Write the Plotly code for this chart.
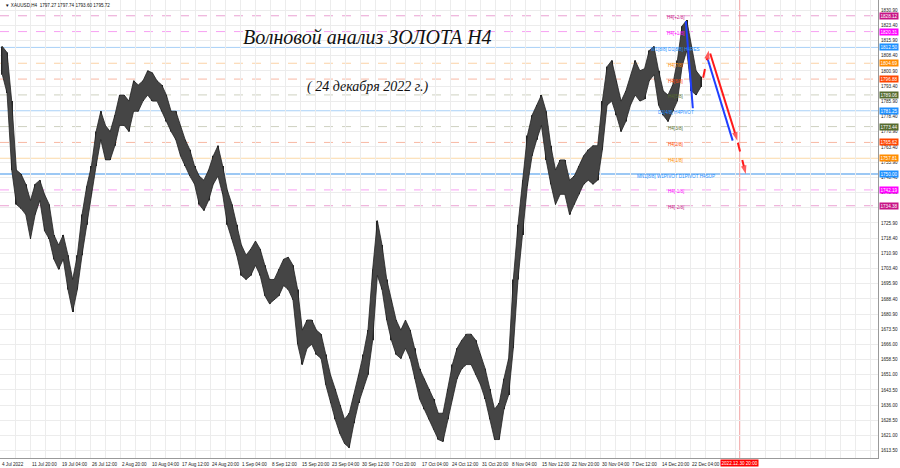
import plotly.graph_objects as go

# ---------------- data ----------------
y_ticks = [1830.9, 1823.4, 1815.9, 1808.4, 1800.9, 1793.4, 1785.9, 1778.4, 1770.9,
           1763.4, 1755.9, 1748.4, 1740.9, 1733.4, 1725.9, 1718.4, 1710.9, 1703.4,
           1695.9, 1688.4, 1680.9, 1673.5, 1666.0, 1658.5, 1651.0, 1643.5, 1636.0,
           1628.5, 1621.0, 1613.5]

time_labels = ["4 Jul 2022", "11 Jul 20:00", "19 Jul 04:00", "26 Jul 12:00", "2 Aug 20:00",
               "10 Aug 04:00", "17 Aug 12:00", "24 Aug 20:00", "1 Sep 04:00", "8 Sep 12:00",
               "15 Sep 20:00", "23 Sep 04:00", "30 Sep 12:00", "7 Oct 20:00", "17 Oct 04:00",
               "24 Oct 12:00", "31 Oct 20:00", "8 Nov 04:00", "15 Nov 12:00", "22 Nov 20:00",
               "30 Nov 04:00", "7 Dec 12:00", "14 Dec 20:00", "22 Dec 04:00"]
label_every = 32          # bars between time labels
group = 5                 # H4 bars per drawn price group

grp_high = [1813, 1810, 1786, 1752, 1750, 1745, 1737, 1745, 1747, 1740,
            1735, 1720, 1715, 1720, 1710, 1698, 1710, 1730, 1744, 1754,
            1771, 1781, 1774, 1771, 1779, 1789, 1789, 1786, 1796, 1794,
            1796, 1801, 1800, 1796, 1794, 1789, 1781, 1781, 1774, 1767,
            1762, 1754, 1749, 1747, 1752, 1759, 1764, 1754, 1742, 1735,
            1725, 1715, 1710, 1713, 1717, 1713, 1705, 1698, 1698, 1703,
            1708, 1709, 1705, 1693, 1673, 1678, 1678, 1673, 1671, 1661,
            1651, 1644, 1636, 1629, 1632, 1641, 1651, 1661, 1673, 1703,
            1727, 1715, 1698, 1688, 1678, 1673, 1678, 1673, 1664, 1654,
            1649, 1644, 1639, 1632, 1632, 1644, 1656, 1664, 1668, 1671,
            1671, 1668, 1661, 1654, 1644, 1634, 1637, 1649, 1659, 1698,
            1725, 1747, 1769, 1779, 1784, 1789, 1781, 1764, 1752, 1757,
            1757, 1747, 1749, 1754, 1759, 1762, 1764, 1764, 1786, 1803,
            1806, 1796, 1786, 1791, 1798, 1806, 1801, 1802, 1811, 1813,
            1801, 1791, 1789, 1794, 1806, 1823, 1826, 1813, 1801, 1798]
grp_low = [1799, 1790, 1752, 1735, 1733, 1730, 1718, 1730, 1737, 1722,
           1718, 1708, 1703, 1708, 1693, 1682, 1693, 1710, 1725, 1740,
           1754, 1767, 1757, 1757, 1764, 1774, 1774, 1771, 1781, 1781,
           1786, 1789, 1786, 1786, 1781, 1776, 1771, 1767, 1759, 1754,
           1749, 1745, 1735, 1732, 1737, 1745, 1749, 1740, 1725, 1718,
           1710, 1700, 1698, 1700, 1705, 1700, 1690, 1686, 1688, 1690,
           1695, 1693, 1688, 1666, 1656, 1664, 1666, 1661, 1659, 1646,
           1637, 1629, 1622, 1617, 1615, 1627, 1637, 1644, 1651, 1668,
           1700, 1693, 1678, 1668, 1661, 1659, 1664, 1659, 1649, 1639,
           1634, 1629, 1624, 1619, 1618, 1629, 1639, 1649, 1654, 1656,
           1656, 1651, 1646, 1639, 1629, 1619, 1619, 1634, 1641, 1664,
           1698, 1720, 1744, 1759, 1767, 1774, 1757, 1745, 1735, 1740,
           1740, 1730, 1735, 1740, 1745, 1747, 1745, 1747, 1762, 1784,
           1786, 1779, 1771, 1776, 1784, 1789, 1786, 1787, 1796, 1799,
           1784, 1779, 1776, 1781, 1786, 1803, 1811, 1791, 1789, 1793]

level_values = [1828.12, 1820.31, 1812.50, 1804.69, 1796.88, 1789.06, 1781.25,
                1773.44, 1765.62, 1757.81, 1750.00, 1742.19, 1734.38]
level_names = ["H4[+2/8]", "H4[+1/8]", "W1[8/8] D1[8/8] H4RES", "H4[7/8]", "H4[6/8]",
               "H4[5/8]", "D1[4/8] H4PIVOT", "H4[3/8]", "H4[2/8]", "H4[1/8]",
               "MN1[8/8] W1PIVOT D1PIVOT H4SUP", "H4[-1/8]", "H4[-2/8]"]
level_colors = ["#c71585", "#ff00ff", "#1e90ff", "#ff8c00", "#ff4500", "#556b2f", "#1e90ff",
                "#556b2f", "#ff4500", "#ff8c00", "#1e90ff", "#ff00ff", "#c71585"]
level_line_colors = ["#eaa0d2", "#f7a0f2", "#a9d0f7", "#fbd2a6", "#f8b8a4", "#cfd1c0", "#a9d0f7",
                     "#cfd1c0", "#f8b8a4", "#fbd9a8", "#9cc8f4", "#f7a0f2", "#eaa0d2"]
level_dash = ["dash", "dash", "solid", "dash", "dash", "dash", "solid",
              "dash", "dash", "solid", "solid", "dash", "dash"]
level_width = [1, 1, 1, 1, 1, 1, 1, 1, 1, 1, 2, 1, 1]

blue1_x, blue1_y = [731.5, 739.0], [1825.5, 1782.5]
blue2_x, blue2_y = [755.0, 781.5], [1806.5, 1766.5]
red_up_x, red_up_y = [750.0, 756.0], [1797.5, 1811.0]
red_mid_x, red_mid_y = [757.5, 762.0, 786.5], [1809.5, 1803.0, 1766.5]
red_end_x, red_end_y = [787.0, 795.5], [1765.5, 1750.0]

vline_bar = 789
vline_label = "2022.12.30 20:00"
header = "\u25bc XAUUSD,H4  1797.27 1797.74 1793.60 1795.72"
title_main = "Волновой анализ ЗОЛОТА Н4"
title_date = "( 24 декабря 2022 г.)"

# ---------------- figure ----------------
FONT = "Liberation Sans"
SMALL = 4.6
fig = go.Figure()

gx = [group * k + group / 2 for k in range(len(grp_high))]
fig.add_trace(go.Scatter(
    x=gx + gx[::-1], y=grp_high + grp_low[::-1], fill="toself", mode="lines",
    fillcolor="#454545", line=dict(color="#222222", width=0.8),
    showlegend=False, hoverinfo="skip"))
fig.add_trace(go.Bar(
    x=gx, y=[h - l for h, l in zip(grp_high, grp_low)], base=grp_low,
    width=1.0, marker=dict(color="#262626", line=dict(width=0)),
    showlegend=False, hoverinfo="skip"))

shapes = []
for v, c, d, w in zip(level_values, level_line_colors, level_dash, level_width):
    shapes.append(dict(type="line", xref="paper", x0=0, x1=1, yref="y", y0=v, y1=v,
                       line=dict(color=c, width=w, dash=d), layer="below"))
shapes.append(dict(type="line", xref="x", x0=vline_bar, x1=vline_bar, yref="paper", y0=0, y1=1,
                   line=dict(color="#f2a3a3", width=1), layer="below"))

annotations = []
for v, n, c in zip(level_values, level_names, level_colors):
    annotations.append(dict(x=721, y=v, xref="x", yref="y", text=n, showarrow=False,
                            font=dict(family=FONT, size=SMALL, color=c),
                            xanchor="center", yanchor="middle", yshift=-2))
    annotations.append(dict(x=1, y=v, xref="paper", yref="y", text=f"{v:.2f}", showarrow=False,
                            font=dict(family=FONT, size=SMALL, color="white"),
                            bgcolor=c, borderpad=0.5, xanchor="left", yanchor="middle", xshift=1))

for k, t in enumerate(time_labels):
    annotations.append(dict(x=k * label_every, y=0, xref="x", yref="paper", text=t, showarrow=False,
                            font=dict(family=FONT, size=SMALL, color="#222"),
                            xanchor="left", yanchor="top", xshift=0, yshift=-2))
annotations.append(dict(x=vline_bar, y=0, xref="x", yref="paper", text=vline_label, showarrow=False,
                        font=dict(family=FONT, size=SMALL, color="white"), bgcolor="#ff0000",
                        borderpad=0.5, xanchor="center", yanchor="top", yshift=-1))

annotations.append(dict(x=0.003, y=0.997, xref="paper", yref="paper", text=header, showarrow=False,
                        font=dict(family=FONT, size=SMALL, color="#111"), xanchor="left", yanchor="top"))
annotations.append(dict(x=392.5, y=1817.5, xref="x", yref="y", text=title_main,
                        showarrow=False, font=dict(family="Liberation Serif", size=20, color="#111",
                                                   style="italic"),
                        xanchor="center", yanchor="middle"))
annotations.append(dict(x=391.5, y=1793.0, xref="x", yref="y", text=title_date, showarrow=False,
                        font=dict(family="Liberation Serif", size=14, color="#111", style="italic"),
                        xanchor="center", yanchor="middle"))

def arrow_trace(xs, ys, color, dash, head):
    sizes = [0] * (len(xs) - 1) + [9 if head else 0]
    return go.Scatter(x=xs, y=ys, mode="lines+markers",
                      line=dict(color=color, width=2, dash=dash),
                      marker=dict(symbol="arrow", size=sizes, color=color, angleref="previous",
                                  line=dict(width=0)),
                      showlegend=False, hoverinfo="skip")

fig.add_trace(arrow_trace(blue1_x, blue1_y, "#1f3fff", "solid", False))
fig.add_trace(arrow_trace(blue2_x, blue2_y, "#1f3fff", "solid", False))
fig.add_trace(arrow_trace(red_up_x, red_up_y, "#ff1a1a", "dash", True))
fig.add_trace(arrow_trace(red_mid_x, red_mid_y, "#ff1a1a", "solid", True))
fig.add_trace(arrow_trace(red_end_x, red_end_y, "#ff1a1a", "dash", True))

fig.update_layout(
    width=900, height=468, margin=dict(l=0, r=22, t=0, b=10),
    paper_bgcolor="white", plot_bgcolor="white",
    shapes=shapes, annotations=annotations,
    xaxis=dict(range=[0, 936.5], tickvals=[16 * k for k in range(0, 59)], showticklabels=False,
               showgrid=True, gridcolor="#ececec", gridwidth=1, zeroline=False,
               showline=True, linecolor="#9a9a9a", linewidth=1, ticks="", automargin=False),
    yaxis=dict(range=[1609.9, 1835.9], side="right", tickvals=y_ticks,
               ticktext=[f"{v:.2f}" for v in y_ticks], tickfont=dict(family=FONT, size=SMALL, color="#222"),
               showgrid=True, gridcolor="#ececec", gridwidth=1, zeroline=False, automargin=False,
               showline=True, linecolor="#9a9a9a", linewidth=1, ticks="", ticklabelstandoff=1),
)
fig.write_html("out.html", config={"displayModeBar": False},
               post_script="document.body.style.margin='0';document.body.style.padding='0';")
